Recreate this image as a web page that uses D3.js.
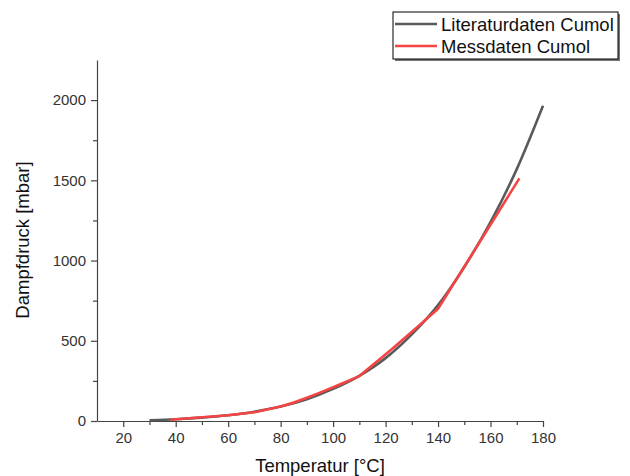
<!DOCTYPE html>
<html>
<head>
<meta charset="utf-8">
<script src="https://cdn.jsdelivr.net/npm/d3@7"></script>
<style>
  body { margin: 0; background: #fff; }
  svg { font-family: "Liberation Sans", Arial, sans-serif; }
</style>
</head>
<body>
<svg id="chart" width="630" height="476"></svg>
<script>
// Literature data (Cumol vapour pressure)
const litTemp = [30, 40, 50, 60, 70, 80, 90, 100, 110, 120, 130, 140, 150, 160, 170, 180];
const litPress = [5, 11, 21, 36, 58, 90, 136, 200, 282, 392, 540, 722, 960, 1240, 1570, 1965];

// Measured data
const measTemp = [38, 50, 60, 70, 80, 85, 90, 95, 100, 105, 110, 122, 133, 140, 171];
const measPress = [8, 23, 36, 55, 90, 115, 145, 177, 210, 245, 280, 442, 598, 700, 1512];

const xTicks = [20, 40, 60, 80, 100, 120, 140, 160, 180];
const yTicks = [0, 500, 1000, 1500, 2000];
const legendLabels = ["Literaturdaten Cumol", "Messdaten Cumol"];
const colors = ["#5a5a5a", "#f44444"];

const svg = d3.select("#chart");
const x = d3.scaleLinear().domain([10, 180]).range([97, 543]);
const y = d3.scaleLinear().domain([0, 2250]).range([421, 60]);

// minor ticks
const xMinor = d3.range(20, 181, 10).filter(d => xTicks.indexOf(d) < 0);
const yMinor = d3.range(250, 2250, 500);

svg.append("g")
    .attr("transform", "translate(0,421)")
    .call(d3.axisBottom(x).tickValues(xTicks).tickSize(6).tickSizeOuter(0).tickPadding(5).tickFormat(d3.format("d")));
svg.append("g")
    .attr("transform", "translate(0,421)")
    .call(d3.axisBottom(x).tickValues(xMinor).tickSize(4).tickSizeOuter(0).tickFormat(""))
    .select(".domain").remove();

svg.append("g")
    .attr("transform", "translate(97,0)")
    .call(d3.axisLeft(y).tickValues(yTicks).tickSize(6).tickSizeOuter(0).tickPadding(5).tickFormat(d3.format("d")));
svg.append("g")
    .attr("transform", "translate(97,0)")
    .call(d3.axisLeft(y).tickValues(yMinor).tickSize(4).tickSizeOuter(0).tickFormat(""))
    .select(".domain").remove();

svg.selectAll(".domain, .tick line").attr("stroke", "#444").attr("stroke-width", 1.2);
svg.selectAll(".tick text").attr("font-size", 15).attr("fill", "#333")
    .attr("font-family", "Liberation Sans, Arial, sans-serif");

// axis titles
svg.append("text")
    .attr("x", 320).attr("y", 472)
    .attr("text-anchor", "middle")
    .attr("font-size", 18.5).attr("fill", "#111")
    .text("Temperatur [°C]");
svg.append("text")
    .attr("transform", "translate(29,240) rotate(-90)")
    .attr("text-anchor", "middle")
    .attr("font-size", 18.5).attr("fill", "#111")
    .text("Dampfdruck [mbar]");

// lines
const litLine = d3.line()
    .x((d, i) => x(litTemp[i]))
    .y(d => y(d))
    .curve(d3.curveMonotoneX);
const measLine = d3.line()
    .x((d, i) => x(measTemp[i]))
    .y(d => y(d));

svg.append("path")
    .datum(litPress)
    .attr("d", litLine)
    .attr("fill", "none")
    .attr("stroke", colors[0])
    .attr("stroke-width", 2.6);

svg.append("path")
    .datum(measPress)
    .attr("d", measLine)
    .attr("fill", "none")
    .attr("stroke", colors[1])
    .attr("stroke-width", 2.6)
    .attr("stroke-linejoin", "round");

// legend
const legend = svg.append("g");
legend.append("rect")
    .attr("x", 395).attr("y", 14).attr("width", 225).attr("height", 47)
    .attr("fill", "#777");
legend.append("rect")
    .attr("x", 393).attr("y", 12).attr("width", 225).attr("height", 47)
    .attr("fill", "#fff").attr("stroke", "#000").attr("stroke-width", 1);

legendLabels.forEach((label, i) => {
    const ly = 24 + i * 22;
    legend.append("line")
        .attr("x1", 395).attr("x2", 437)
        .attr("y1", ly).attr("y2", ly)
        .attr("stroke", colors[i]).attr("stroke-width", 2.6);
    legend.append("text")
        .attr("x", 441).attr("y", ly + 6.5)
        .attr("font-size", 18.5).attr("fill", "#111")
        .text(label);
});
</script>
</body>
</html>
